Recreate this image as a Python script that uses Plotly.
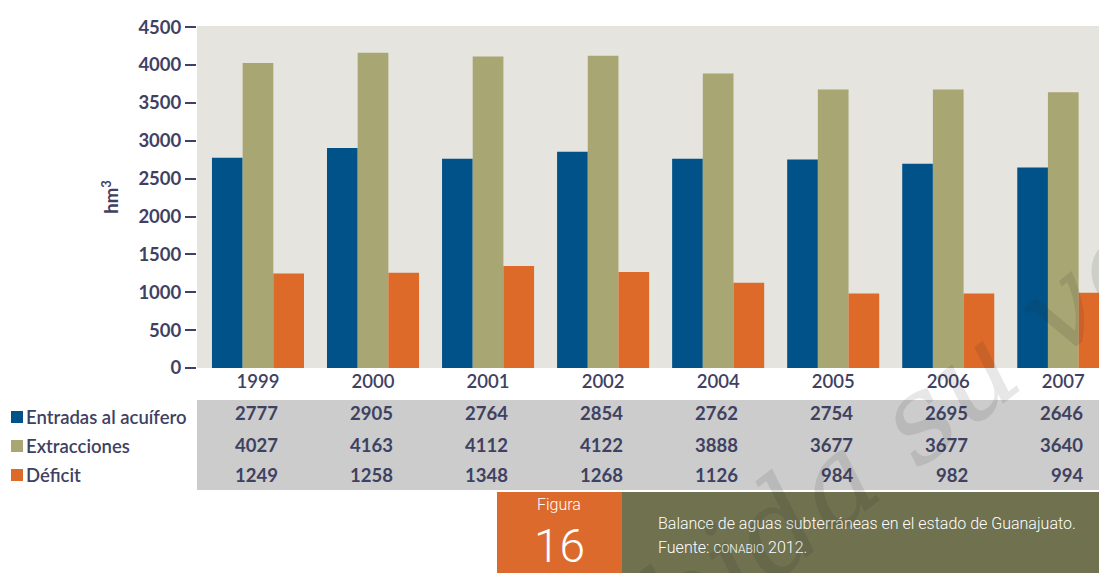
import plotly.graph_objects as go

years = ["1999", "2000", "2001", "2002", "2004", "2005", "2006", "2007"]
entradas = [2777, 2905, 2764, 2854, 2762, 2754, 2695, 2646]
extracciones = [4027, 4163, 4112, 4122, 3888, 3677, 3677, 3640]
deficit = [1249, 1258, 1348, 1268, 1126, 984, 982, 994]

series_names = ["Entradas al acuífero", "Extracciones", "Déficit"]
series_values = [entradas, extracciones, deficit]
colors = ["#005288", "#a8a672", "#dd6a29"]

TXT = "#3f4163"
FONT = "Lato"

# the page adds an 8px body margin, so the figure is 8px smaller and every
# position below is given in page pixels; plot area is x 197..1107, y 26..368
def px_x(p):
    return (p - 197) / 910

def px_y(p):
    return (368 - p) / 342

fig = go.Figure()
for name, vals, c in zip(series_names, series_values, colors):
    fig.add_bar(x=years, y=vals, name=name, marker_color=c, marker_line_width=0)

shapes = [
    # data table band
    dict(type="rect", xref="paper", yref="paper", x0=0, x1=1.0,
         y0=px_y(490), y1=px_y(400), fillcolor="#cbcccb", line_width=0, layer="below"),
    # figure number box
    dict(type="rect", xref="paper", yref="paper", x0=px_x(497), x1=px_x(622),
         y0=px_y(575), y1=px_y(492), fillcolor="#dd6a2d", line_width=0),
    # caption box
    dict(type="rect", xref="paper", yref="paper", x0=px_x(622), x1=1.0,
         y0=px_y(575), y1=px_y(492), fillcolor="#6f714f", line_width=0),
]

annotations = []
value_rows_y = [413, 445, 475]
label_rows_y = [417, 446, 475]
for i, (name, vals, c) in enumerate(zip(series_names, series_values, colors)):
    shapes.append(dict(type="rect", xref="paper", yref="paper",
                       x0=px_x(11), x1=px_x(23),
                       y0=px_y(label_rows_y[i] + 6), y1=px_y(label_rows_y[i] - 6),
                       fillcolor=c, line_width=0))
    annotations.append(dict(
        xref="paper", yref="paper", x=px_x(24), y=px_y(label_rows_y[i]),
        xanchor="left", yanchor="middle", showarrow=False, text=name,
        font=dict(family=FONT, size=18.5, color=TXT, weight=600)))
    for j, v in enumerate(vals):
        annotations.append(dict(
            xref="x", yref="paper", x=j, y=px_y(value_rows_y[i]),
            xanchor="right", yanchor="middle", showarrow=False, xshift=22,
            text=str(v), font=dict(family=FONT, size=18.5, color=TXT, weight="bold")))

annotations += [
    dict(xref="paper", yref="paper", x=px_x(559), y=px_y(504), showarrow=False,
         xanchor="center", yanchor="middle",
         text="Figura", font=dict(family="Roboto", size=16, color="white", weight=300)),
    dict(xref="paper", yref="paper", x=px_x(559), y=px_y(546), showarrow=False,
         xanchor="center", yanchor="middle",
         text="16", font=dict(family="Roboto", size=46, color="white", weight=300)),
    dict(xref="paper", yref="paper", x=px_x(656), y=px_y(523), showarrow=False,
         xanchor="left", yanchor="middle",
         text="Balance de aguas subterráneas en el estado de Guanajuato.",
         font=dict(family="Roboto", size=16, color="white", weight=300)),
    dict(xref="paper", yref="paper", x=px_x(656), y=px_y(547), showarrow=False,
         xanchor="left", yanchor="middle",
         text="Fuente: <span style='font-size:12px'>CONABIO</span> 2012.",
         font=dict(family="Roboto", size=16, color="white", weight=300)),
    # watermark
    dict(xref="paper", yref="paper", x=px_x(846), y=px_y(473), showarrow=False,
         xanchor="center", yanchor="middle",
         text="Prohibida su venta", textangle=-38,
         font=dict(family="DejaVu Serif", size=120, style="italic",
                   color="rgba(40,40,40,0.11)")),
]

fig.update_layout(
    width=1099, height=565,
    margin=dict(l=189, r=0, t=18, b=205),
    paper_bgcolor="white", plot_bgcolor="#e5e4df",
    barmode="group", bargap=0.2, bargroupgap=0,
    showlegend=False,
    shapes=shapes, annotations=annotations,
    xaxis=dict(range=[-0.53, 7.38], showgrid=False, ticks="", showline=False,
               tickfont=dict(family=FONT, size=18.5, color=TXT, weight=600)),
    yaxis=dict(range=[0, 4515], dtick=500, showgrid=False, zeroline=False,
               ticks="outside", ticklen=11, tickwidth=2, tickcolor=TXT,
               tickfont=dict(family=FONT, size=18.5, color=TXT, weight="bold"),
               title=dict(text="hm<sup>3</sup>", standoff=14,
                          font=dict(family=FONT, size=18.5, color=TXT, weight="bold"))),
)

fig.write_html("out.html")
